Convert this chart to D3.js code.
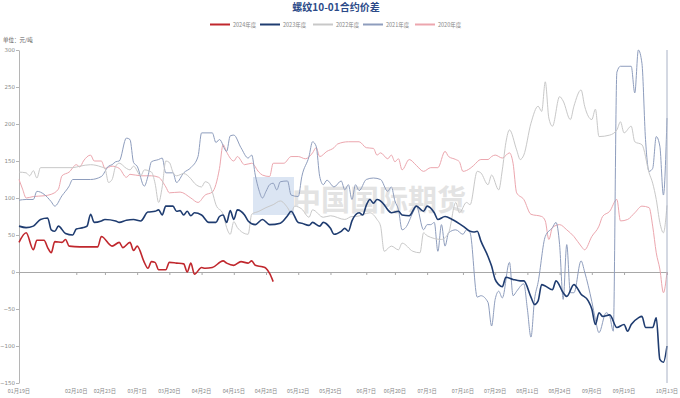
<!DOCTYPE html>
<html>
<head>
<meta charset="utf-8">
<script src="https://cdn.jsdelivr.net/npm/d3@7"></script>
<style>
  body { margin: 0; background: #fff; }
  svg { display: block; font-family: "Noto Sans CJK SC", "Noto Sans", sans-serif; }
</style>
</head>
<body>
<div id="chart"></div>
<script>
// trading-day index of each x label
const tickIdx = [0, 16, 24, 33, 42, 51, 60, 69, 78, 87, 97, 105, 114, 124, 133, 142, 151, 160, 169, 181];
const tickLabels = ["01月19日", "02月10日", "02月23日", "03月7日", "03月20日", "04月2日", "04月15日", "04月28日",
  "05月12日", "05月25日", "06月7日", "06月20日", "07月3日", "07月16日", "07月29日", "08月11日",
  "08月24日", "09月6日", "09月19日", "10月13日"];
const yTicks = [300, 250, 200, 150, 100, 50, 0, -50, -100, -150];

const years = ["2024年度", "2023年度", "2022年度", "2021年度", "2020年度"];

// [trading day index, spread]
const s2024 = [[0,40],[2,53],[4,30],[5,43],[7,43],[8,33],[9,26],[10,41],[12,40],[13,44],[14,35],[17,34],[22,34],[23,48],
  [26,35],[28,40],[29,33],[31,40],[32,29],[33,35],[35,13],[36,5],[37,14],[38,13],[39,3],[41,3],[42,13],[44,12],[46,11],
  [47,0],[48,12],[49,-3],[51,6],[52,5],[54,6],[57,15],[58,12],[60,9],[62,14],[64,12],[65,15],[66,9],[68,7],[69,5],
  [70,-2],[71,-13]];

const s2023 = [[0,62],[2,60],[4,62],[6,71],[8,73],[9,57],[10,55],[11,62],[13,52],[15,50],[16,58],[18,60],[19,62],[20,78],
  [21,67],[23,69],[24,71],[27,69],[28,67],[30,70],[32,71],[34,69],[36,81],[38,82],[39,84],[40,77],[41,89],[43,89],[44,82],
  [45,83],[46,77],[47,82],[48,76],[49,80],[51,77],[53,67],[55,67],[56,75],[57,77],[58,67],[59,83],[60,71],[61,84],[63,77],
  [64,69],[66,64],[68,71],[70,64],[73,66],[75,76],[76,82],[78,67],[79,66],[81,63],[82,67],[84,62],[85,67],[87,59],[88,51],
  [90,55],[91,59],[92,55],[93,69],[95,80],[96,77],[97,90],[98,98],[99,93],[100,98],[102,91],[103,84],[104,80],[106,82],
  [107,77],[109,76],[111,89],[113,82],[114,89],[116,80],[117,71],[119,75],[121,71],[124,62],[126,55],[127,54],[128,55],
  [129,42],[131,21],[132,8],[133,-10],[134,-17],[135,-20],[136,-7],[138,-10],[140,-12],[141,-12],[143,-34],[144,-44],
  [145,-39],[146,-17],[147,-19],[149,-24],[150,-12],[152,-28],[153,-33],[155,-17],[157,-30],[159,-39],[160,-50],[161,-71],
  [162,-55],[163,-60],[165,-58],[167,-75],[169,-71],[170,-80],[171,-71],[173,-62],[174,-60],[175,-75],[177,-75],[178,-62],
  [179,-118],[180,-122],[181,-100]];

const s2022 = [[0,135],[2,134],[3,130],[4,137],[5,127],[6,141],[15,141],[17,143],[20,145],[23,142],[24,140],[25,121],
  [26,125],[27,143],[28,147],[30,140],[31,138],[32,143],[34,130],[35,138],[37,135],[38,120],[39,94],[40,115],[41,150],
  [42,148],[43,135],[44,130],[46,133],[48,126],[49,120],[51,115],[52,122],[53,120],[54,108],[55,91],[57,78],[58,60],
  [59,51],[60,68],[61,60],[64,51],[65,78],[67,82],[69,87],[71,91],[73,96],[75,87],[76,80],[77,89],[79,85],[81,74],[82,84],
  [85,74],[87,76],[91,71],[93,75],[94,75],[98,80],[100,71],[101,62],[102,28],[104,35],[106,30],[107,39],[110,28],[112,26],
  [113,53],[114,49],[118,44],[120,53],[122,94],[123,80],[125,94],[126,91],[128,136],[129,134],[131,118],[132,131],
  [134,111],[135,138],[136,175],[137,192],[139,165],[140,152],[141,158],[143,201],[145,224],[146,217],[147,257],[148,208],
  [149,197],[151,237],[152,231],[154,206],[155,224],[157,246],[158,224],[160,206],[161,220],[162,183],[165,185],[167,192],
  [168,203],[169,188],[171,197],[172,176],[174,172],[176,134],[177,120],[178,98],[179,67],[180,53],[181,90]];

const s2021 = [[0,97],[2,98],[4,98],[5,109],[7,105],[9,95],[10,89],[12,103],[14,116],[15,125],[20,125],[23,129],[25,143],
  [26,145],[27,149],[28,150],[30,181],[31,179],[32,148],[33,143],[35,116],[36,129],[37,149],[39,152],[40,154],[41,134],
  [43,134],[44,121],[46,134],[48,141],[50,156],[51,188],[54,188],[55,175],[56,179],[58,163],[59,184],[60,185],[62,168],
  [64,154],[65,158],[66,131],[67,111],[68,100],[69,109],[70,118],[71,120],[72,111],[73,122],[75,123],[76,104],[78,102],
  [79,129],[81,156],[82,176],[83,170],[84,129],[85,118],[86,124],[88,115],[90,123],[91,111],[92,118],[93,98],[94,118],
  [95,110],[97,125],[99,127],[101,125],[103,109],[104,115],[105,96],[106,84],[107,57],[108,60],[110,80],[111,89],[113,57],
  [114,64],[115,64],[116,67],[117,28],[118,64],[119,35],[120,53],[122,57],[124,51],[125,57],[126,53],[128,-34],[129,-32],
  [131,-41],[132,-73],[133,-37],[134,-26],[135,-35],[137,13],[138,-32],[139,-26],[141,-16],[142,-50],[143,-88],[144,-37],
  [145,-14],[147,48],[149,60],[150,67],[151,37],[152,-37],[153,37],[154,-28],[155,-28],[157,15],[158,0],[160,-40],
  [161,-64],[162,-82],[164,-55],[165,-60],[166,-80],[167,270],[168,278],[171,278],[172,242],[173,300],[174,282],[175,179],
  [176,136],[177,140],[178,183],[179,170],[180,104],[181,208]];
const s2021Tail = [[181,300],[181,-150]];

const s2020 = [[0,125],[1,112],[2,100],[4,102],[7,103],[9,105],[11,112],[12,130],[14,135],[16,145],[17,142],[18,150],
  [20,158],[21,150],[23,150],[24,140],[26,143],[28,140],[30,128],[31,132],[34,130],[37,130],[39,128],[41,115],[42,107],
  [45,108],[48,100],[50,94],[52,104],[54,108],[56,140],[57,172],[58,162],[60,150],[61,156],[63,145],[65,147],[67,135],
  [68,131],[70,129],[71,147],[74,147],[76,156],[78,156],[80,153],[82,161],[83,168],[84,156],[86,163],[88,168],[89,173],
  [92,176],[95,176],[97,168],[99,167],[100,158],[101,161],[103,153],[104,158],[105,149],[106,153],[107,138],[109,152],
  [111,144],[113,136],[115,141],[117,141],[119,163],[120,156],[122,152],[123,149],[124,136],[126,140],[127,144],[129,152],
  [131,152],[132,156],[133,158],[135,154],[137,161],[138,147],[139,107],[141,98],[143,78],[146,75],[147,69],[148,44],
  [149,60],[151,64],[153,57],[155,48],[157,35],[158,30],[160,48],[162,62],[163,75],[165,82],[167,98],[168,69],[170,71],
  [172,80],[174,89],[176,87],[177,62],[178,26],[179,4],[180,-28],[181,0]];

const width = 680, height = 398;
const margin = { top: 50, right: 13, bottom: 15, left: 19 };

const colors = ["#c0272d", "#1f3c70", "#c8c8c8", "#8e9dbd", "#eca6ae"];
const strokeW = [1.6, 1.6, 1, 1, 1];

const svg = d3.select("#chart").append("svg")
  .attr("width", width)
  .attr("height", height);

const x = d3.scaleLinear().domain([0, 181]).range([margin.left, width - margin.right]);
const y = d3.scaleLinear().domain([-150, 300]).range([height - margin.bottom, margin.top]);

// watermark
const wm = svg.append("g");
wm.append("rect").attr("x", 253).attr("y", 177).attr("width", 41).attr("height", 38)
  .attr("fill", "#dbe5f3");
wm.append("text").attr("x", 292).attr("y", 211).attr("font-size", 29).attr("font-weight", "bold")
  .attr("fill", "#e3e3e3").text("中国国际期货");

// title
svg.append("text")
  .attr("x", 336).attr("y", 11)
  .attr("text-anchor", "middle")
  .attr("font-size", 10).attr("font-weight", "bold")
  .attr("fill", "#2b4a88")
  .text("螺纹10-01合约价差");

// legend
const legendX = [210, 260, 313, 363, 415];
const legend = svg.append("g");
years.forEach((yr, i) => {
  legend.append("line")
    .attr("x1", legendX[i]).attr("x2", legendX[i] + 20)
    .attr("y1", 24.5).attr("y2", 24.5)
    .attr("stroke", colors[i]).attr("stroke-width", 2);
  legend.append("text")
    .attr("x", legendX[i] + 23).attr("y", 26.5)
    .attr("font-size", 5.5).attr("fill", "#888")
    .text(yr);
});

// unit
svg.append("text").attr("x", 3).attr("y", 42)
  .attr("font-size", 5.5).attr("fill", "#555").text("单位：元/吨");

// y axis
const yAxis = svg.append("g")
  .attr("transform", `translate(${margin.left},0)`)
  .call(d3.axisLeft(y).tickValues(yTicks).tickSize(3).tickSizeOuter(0));
yAxis.select(".domain").attr("stroke", "#b5b5b5");
yAxis.selectAll(".tick line").attr("stroke", "#b5b5b5");
yAxis.selectAll(".tick text").attr("font-size", 5.5).attr("fill", "#888").attr("x", -4)
  .style("font-family", "DejaVu Sans, sans-serif");

// zero line with ticks
const xAxis = svg.append("g")
  .attr("transform", `translate(0,${y(0)})`)
  .call(d3.axisBottom(x).tickValues(tickIdx).tickSize(3).tickSizeOuter(0).tickFormat(""));
xAxis.select(".domain").attr("stroke", "#a8a8a8");
xAxis.selectAll(".tick line").attr("stroke", "#a8a8a8");

// labels at the bottom
svg.append("g").selectAll("text")
  .data(tickIdx)
  .join("text")
  .attr("x", (d) => x(d))
  .attr("y", 393)
  .attr("text-anchor", "middle")
  .attr("font-size", 5.3)
  .attr("fill", "#888")
  .text((d, i) => tickLabels[i]);

const line = d3.line()
  .x((d) => x(d[0]))
  .y((d) => y(d[1]))
  .curve(d3.curveMonotoneX);

const seriesList = [s2024, s2023, s2022, s2021, s2020];
const drawOrder = [4, 3, 2, 1, 0];
const lines = svg.append("g").attr("fill", "none");
drawOrder.forEach((i) => {
  lines.append("path")
    .attr("d", line(seriesList[i]))
    .attr("stroke", colors[i])
    .attr("stroke-width", strokeW[i]);
});
lines.append("path")
  .attr("d", d3.line().x((d) => x(d[0])).y((d) => y(d[1]))(s2021Tail))
  .attr("stroke", "#a9b2c6")
  .attr("stroke-width", 1);
</script>
</body>
</html>
